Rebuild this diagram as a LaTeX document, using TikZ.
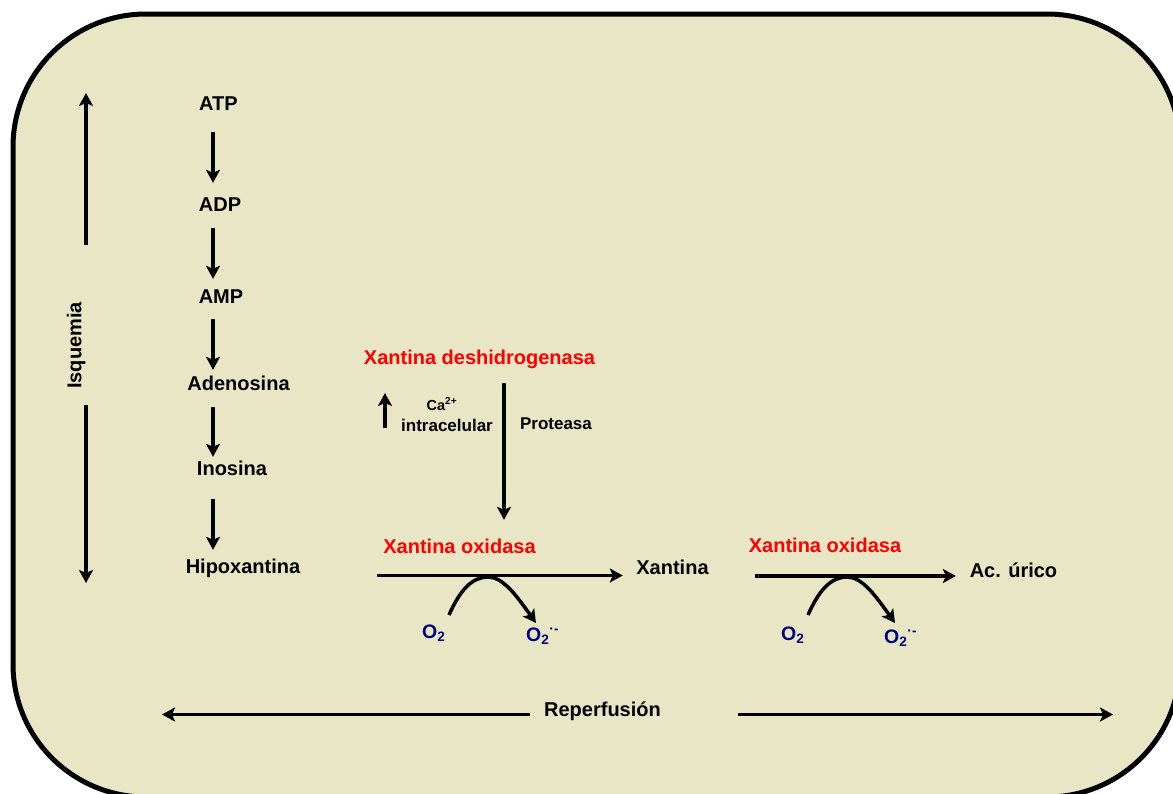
\documentclass[tikz,border=0pt]{standalone}
\usepackage{fontspec}
\setmainfont{Liberation Sans}
\usetikzlibrary{arrows.meta}
\definecolor{panel}{RGB}{232,230,196}
\definecolor{enzyme}{RGB}{255,0,0}
\definecolor{oxy}{RGB}{0,0,128}

\begin{document}
\begin{tikzpicture}[x=1pt,y=-1pt,
  arr/.style={line width=3.2pt, -{Stealth[length=13pt,width=14pt,inset=3pt]}},
  curv/.style={line width=3.5pt, -{Stealth[length=13pt,width=14pt,inset=3pt]}},
  lbl/.style={inner sep=0pt, anchor=base, text height=14.5pt, text depth=4pt,
              font=\bfseries\fontsize{20}{24}\selectfont},
  enz/.style={lbl, text=enzyme},
  small/.style={inner sep=0pt, anchor=base, font=\bfseries\fontsize{17}{20}\selectfont},
  ox/.style={inner sep=0pt, anchor=base west, text=oxy,
             font=\bfseries\fontsize{19.5}{23}\selectfont},
  oxcurve/.pic={\draw[curv] (0,0) .. controls (11,-25) and (23,-38) .. (39,-38)
                 .. controls (54,-38) and (67,-20) .. (87,8);}
]
\useasboundingbox (0,0) rectangle (1173,793);

% panel
\begin{scope}
  \clip (0,0) rectangle (1173,793);
  \draw[line width=5pt, fill=panel, rounded corners=133pt] (13,14) rectangle (1180,797);
\end{scope}

% nucleotide degradation chain
\node[lbl] (atp)  at (218.5,110) {ATP};
\node[lbl] (adp)  at (220,211)   {ADP};
\node[lbl] (amp)  at (221,303)   {AMP};
\node[lbl] (ado)  at (238.5,390) {Adenosina};
\node[lbl] (ino)  at (232,475)   {Inosina};
\node[lbl] (hipo) at (243,573)   {Hipoxantina};

\coordinate (ax) at (213,0);
\draw[arr, shorten <=18pt, shorten >=13.5pt] (atp.south -| ax) -- (adp.north -| ax);
\draw[arr, shorten <=13pt, shorten >=9.5pt]  (adp.south -| ax) -- (amp.north -| ax);
\draw[arr, shorten <=12pt, shorten >=5.5pt]  (amp.south -| ax) -- (ado.north -| ax);
\draw[arr, shorten <=13pt, shorten >=3.5pt]  (ado.south -| ax) -- (ino.north -| ax);
\draw[arr, shorten <=20pt, shorten >=8.5pt]  (ino.south -| ax) -- (hipo.north -| ax);

% ischaemia axis
\node[lbl, anchor=center, rotate=90] (isq) at (76,345.5) {Isquemia};
\coordinate (isqtop) at (86,93);
\coordinate (isqbot) at (86,583);
\draw[arr, shorten <=57pt] (isq.east -| isqtop) -- (isqtop);
\draw[arr, shorten <=16pt] (isq.west -| isqbot) -- (isqbot);

% dehydrogenase to oxidase conversion
\node[enz] (xdh) at (479.5,364) {Xantina deshidrogenasa};
\node[enz] (xo1) at (459.5,553) {Xantina oxidasa};
\coordinate (px) at (504,0);
\draw[arr, shorten <=15pt, shorten >=18.5pt] (xdh.south -| px) -- (xo1.north -| px);

\node[small, font=\bfseries\fontsize{14.5}{16}\selectfont] (ca) at (442,410) {Ca\textsuperscript{2+}};
\node[small] (intra) at (447,431) {intracelular};
\node[small] (prot)  at (556,429) {Proteasa};
\coordinate (caup) at (385,393);
\draw[arr, shorten <=3pt] (intra.base -| caup) -- (caup);

% oxidation steps
\node[lbl] (xan) at (672.5,574)  {Xantina};
\node[enz] (xo2) at (825,552)    {Xantina oxidasa};
\node[lbl] (acu) at (1013.5,577) {Ac. úrico};

\coordinate (r1) at (0,575.5);
\coordinate (r2) at (0,576);
\draw[arr, shorten <=76.8pt, shorten >=13.4pt] (hipo.east |- r1) -- (xan.west |- r1);
\draw[arr, shorten <=46.4pt, shorten >=13.7pt] (xan.east |- r2) -- (acu.west |- r2);

\node[ox] (o2a) at (422,638) {O\textsubscript{2}};
\node[ox] (o2b) at (526,641) {O\textsubscript{2}\textsuperscript{·-}};
\node[ox] (o2c) at (781,640) {O\textsubscript{2}};
\node[ox] (o2d) at (884,643) {O\textsubscript{2}\textsuperscript{·-}};

\pic at (449,615) {oxcurve};
\pic at (808,615) {oxcurve};

% reperfusion axis
\node[lbl] (rep) at (602.5,716) {Reperfusión};
\coordinate (repL) at (162,714.5);
\coordinate (repR) at (1113,714.5);
\draw[arr, shorten <=14pt] (rep.west |- repL) -- (repL);
\draw[arr, shorten <=77pt] (rep.east |- repR) -- (repR);
\end{tikzpicture}
\end{document}
